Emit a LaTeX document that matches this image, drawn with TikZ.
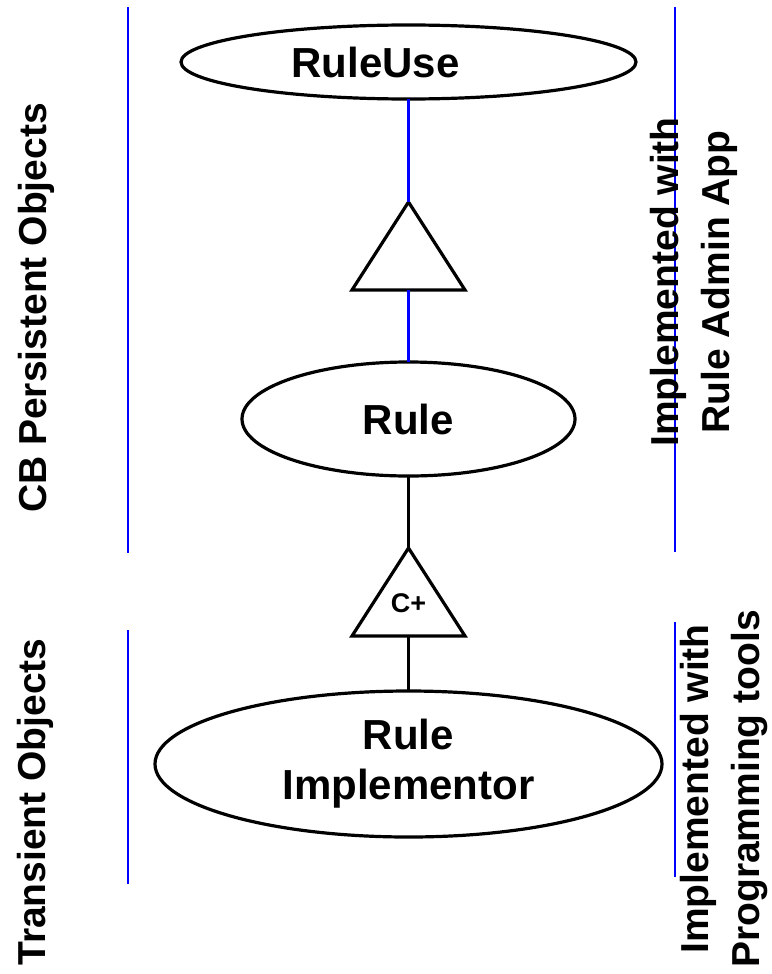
\documentclass[tikz,border=0pt]{standalone}
\usepackage{fontspec}
\setmainfont{Liberation Sans}
\usetikzlibrary{positioning, shapes.geometric}

\begin{document}
\begin{tikzpicture}[
  x=1pt, y=1pt,
  cls/.style  = {ellipse, draw, line width=3.2pt, inner sep=0pt, outer sep=0pt, align=center, font=\bfseries\fontsize{42}{50}\selectfont},
  gen/.style  = {isosceles triangle, isosceles triangle stretches, shape border rotate=90, draw, line width=3.2pt, inner sep=0pt, outer sep=0pt, minimum width=113pt, minimum height=88pt, font=\bfseries\fontsize{27}{32}\selectfont},
  tier/.style = {rotate=90, align=center, font=\bfseries\fontsize{39}{51}\selectfont},
  link/.style = {line width=3.2pt},
  sep/.style  = {blue, line width=1.6pt},
]
  \useasboundingbox (0,0) rectangle (771,-974);
  % separators between the tiers
  \foreach \x/\a/\b in {128/7/553, 128/630/884, 675/7/552, 675/622/877}
     \draw[sep] (\x,-\a) -- (\x,-\b);

  % class column
  \node[cls, minimum width=455pt, minimum height=74pt] (ruleuse) at (408.5,-62) {RuleUse\hspace*{66pt}};
  \node[gen, below=103pt of ruleuse] (inh)   {};
  \node[cls, minimum width=333pt, minimum height=114pt, below=72pt of inh] (rule) {Rule};
  \node[gen, text depth=14pt, below=72pt of rule] (cplus) {C+};
  \node[cls, minimum width=507pt, minimum height=146pt, below=55pt of cplus] (impl) {Rule\\Implementor};

  \draw[link, blue] (ruleuse.south) -- (inh.north);
  \draw[link, blue] (inh.south)     -- (rule.north);
  \draw[link]       (rule.south)    -- (cplus.north);
  \draw[link]       (cplus.south)   -- (impl.north);

  % tier labels
  \node[tier] (persist)   at (36.5,-308) {CB Persistent Objects};
  \node[tier] (transient) at (35,-802)   {Transient Objects};
  \node[tier] (adminapp)  at (694,-282)  {Implemented with\\Rule Admin App};
  \node[tier] (progtools) at (724,-789)  {Implemented with\\Programming tools};
\end{tikzpicture}
\end{document}
